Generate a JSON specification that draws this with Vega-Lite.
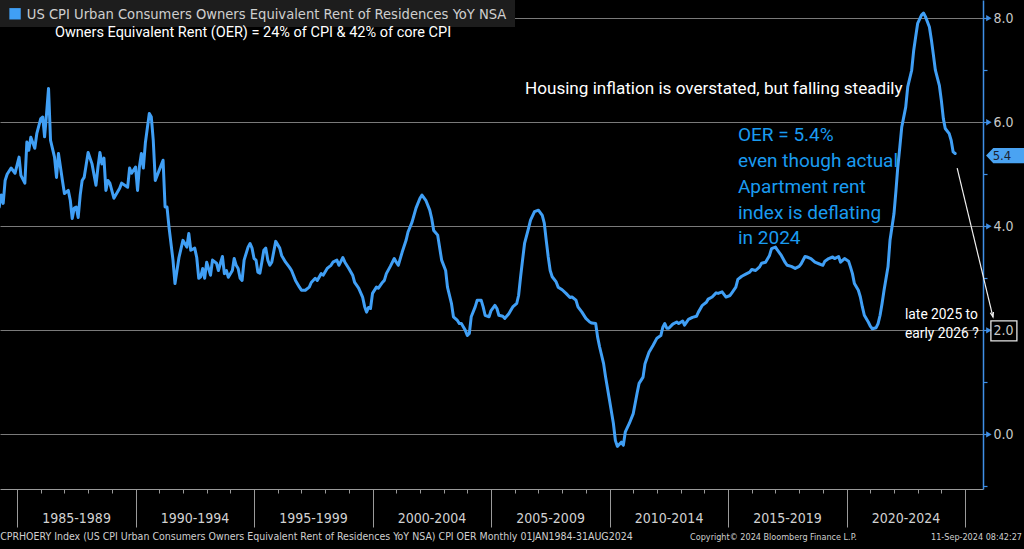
{
  "$schema": "https://vega.github.io/schema/vega-lite/v6.json",
  "width": 983,
  "height": 489,
  "autosize": {"type": "none"},
  "padding": {"left": 0, "top": 0, "right": 41, "bottom": 60},
  "background": "#000000",
  "config": {"view": {"stroke": null}},
  "datasets": {
    "oer": [
      {"d":"1984-04","v":4.37},{"d":"1984-05","v":4.6},{"d":"1984-06","v":4.44},{"d":"1984-07","v":4.88},{"d":"1984-08","v":5.0},{"d":"1984-10","v":5.12},{"d":"1984-12","v":5.02},
      {"d":"1985-02","v":5.33},{"d":"1985-03","v":4.98},{"d":"1985-05","v":4.83},{"d":"1985-06","v":5.62},{"d":"1985-07","v":5.46},{"d":"1985-08","v":5.71},{"d":"1985-10","v":5.5},{"d":"1985-11","v":5.78},
      {"d":"1986-01","v":6.07},{"d":"1986-02","v":6.1},{"d":"1986-03","v":5.72},{"d":"1986-04","v":6.17},{"d":"1986-05","v":6.65},{"d":"1986-06","v":5.65},{"d":"1986-08","v":5.33},{"d":"1986-09","v":4.94},{"d":"1986-10","v":5.4},{"d":"1986-12","v":4.88},
      {"d":"1987-01","v":4.63},{"d":"1987-03","v":4.69},{"d":"1987-04","v":4.5},{"d":"1987-05","v":4.15},{"d":"1987-06","v":4.35},{"d":"1987-07","v":4.37},{"d":"1987-08","v":4.17},{"d":"1987-09","v":4.6},{"d":"1987-10","v":4.88},{"d":"1987-11","v":4.94},
      {"d":"1988-01","v":5.42},{"d":"1988-03","v":5.2},{"d":"1988-05","v":4.79},{"d":"1988-06","v":5.14},{"d":"1988-07","v":5.42},{"d":"1988-08","v":5.2},{"d":"1988-09","v":5.31},{"d":"1988-10","v":4.69},{"d":"1988-11","v":4.88},{"d":"1988-12","v":4.83},
      {"d":"1989-02","v":4.54},{"d":"1989-05","v":4.73},{"d":"1989-06","v":4.83},{"d":"1989-09","v":4.75},{"d":"1989-10","v":5.12},{"d":"1989-11","v":5.02},
      {"d":"1990-01","v":5.14},{"d":"1990-02","v":4.69},{"d":"1990-03","v":5.14},{"d":"1990-04","v":5.4},{"d":"1990-05","v":5.12},{"d":"1990-06","v":5.6},{"d":"1990-08","v":6.17},{"d":"1990-09","v":6.1},{"d":"1990-10","v":5.65},{"d":"1990-11","v":4.88},
      {"d":"1991-01","v":5.08},{"d":"1991-03","v":5.27},{"d":"1991-04","v":4.37},{"d":"1991-05","v":4.37},{"d":"1991-06","v":3.98},{"d":"1991-08","v":3.35},{"d":"1991-09","v":2.9},{"d":"1991-11","v":3.4},
      {"d":"1992-01","v":3.73},{"d":"1992-03","v":3.6},{"d":"1992-04","v":3.86},{"d":"1992-05","v":3.54},{"d":"1992-07","v":3.58},{"d":"1992-08","v":3.4},{"d":"1992-09","v":3.0},{"d":"1992-10","v":3.03},{"d":"1992-11","v":3.19},{"d":"1992-12","v":3.0},
      {"d":"1993-01","v":3.31},{"d":"1993-03","v":3.06},{"d":"1993-04","v":3.35},{"d":"1993-06","v":3.29},{"d":"1993-07","v":3.15},{"d":"1993-08","v":3.29},{"d":"1993-09","v":3.42},{"d":"1993-10","v":3.09},{"d":"1993-11","v":3.15},{"d":"1993-12","v":3.02},
      {"d":"1994-02","v":3.15},{"d":"1994-03","v":3.38},{"d":"1994-04","v":3.25},{"d":"1994-05","v":3.19},{"d":"1994-06","v":3.0},{"d":"1994-07","v":2.96},{"d":"1994-08","v":3.35},{"d":"1994-10","v":3.6},{"d":"1994-11","v":3.67},{"d":"1994-12","v":3.58},
      {"d":"1995-01","v":3.38},{"d":"1995-02","v":3.35},{"d":"1995-03","v":3.12},{"d":"1995-04","v":3.1},{"d":"1995-05","v":3.31},{"d":"1995-06","v":3.54},{"d":"1995-07","v":3.58},{"d":"1995-08","v":3.35},{"d":"1995-09","v":3.25},{"d":"1995-10","v":3.31},{"d":"1995-12","v":3.71},
      {"d":"1996-02","v":3.58},{"d":"1996-03","v":3.44},{"d":"1996-05","v":3.31},{"d":"1996-07","v":3.21},{"d":"1996-08","v":3.15},{"d":"1996-10","v":2.96},{"d":"1996-12","v":2.83},
      {"d":"1997-01","v":2.77},{"d":"1997-03","v":2.77},{"d":"1997-05","v":2.83},{"d":"1997-06","v":2.92},{"d":"1997-08","v":3.0},{"d":"1997-09","v":2.96},{"d":"1997-11","v":3.09},{"d":"1997-12","v":3.06},
      {"d":"1998-02","v":3.19},{"d":"1998-04","v":3.25},{"d":"1998-05","v":3.31},{"d":"1998-07","v":3.35},{"d":"1998-08","v":3.25},{"d":"1998-10","v":3.4},{"d":"1998-11","v":3.31},
      {"d":"1999-01","v":3.19},{"d":"1999-03","v":3.06},{"d":"1999-04","v":2.92},{"d":"1999-06","v":2.81},{"d":"1999-08","v":2.64},{"d":"1999-09","v":2.46},{"d":"1999-10","v":2.35},{"d":"1999-11","v":2.44},{"d":"1999-12","v":2.42},
      {"d":"2000-01","v":2.71},{"d":"2000-03","v":2.83},{"d":"2000-04","v":2.81},{"d":"2000-06","v":2.92},{"d":"2000-07","v":2.96},{"d":"2000-08","v":3.09},{"d":"2000-10","v":3.23},{"d":"2000-12","v":3.38},
      {"d":"2001-01","v":3.31},{"d":"2001-02","v":3.25},{"d":"2001-04","v":3.5},{"d":"2001-06","v":3.73},{"d":"2001-07","v":3.89},{"d":"2001-09","v":4.08},{"d":"2001-11","v":4.35},
      {"d":"2002-01","v":4.54},{"d":"2002-02","v":4.6},{"d":"2002-04","v":4.5},{"d":"2002-06","v":4.31},{"d":"2002-07","v":4.15},{"d":"2002-08","v":3.92},{"d":"2002-10","v":3.83},{"d":"2002-12","v":3.35},
      {"d":"2003-02","v":3.15},{"d":"2003-03","v":2.83},{"d":"2003-05","v":2.52},{"d":"2003-06","v":2.26},{"d":"2003-08","v":2.19},{"d":"2003-09","v":2.13},{"d":"2003-10","v":2.13},{"d":"2003-12","v":2.0},
      {"d":"2004-01","v":1.9},{"d":"2004-02","v":1.94},{"d":"2004-03","v":2.26},{"d":"2004-05","v":2.45},{"d":"2004-06","v":2.58},{"d":"2004-08","v":2.58},{"d":"2004-09","v":2.45},{"d":"2004-10","v":2.29},{"d":"2004-12","v":2.26},
      {"d":"2005-01","v":2.38},{"d":"2005-03","v":2.48},{"d":"2005-04","v":2.42},{"d":"2005-05","v":2.29},{"d":"2005-07","v":2.27},{"d":"2005-08","v":2.23},{"d":"2005-10","v":2.32},{"d":"2005-12","v":2.45},
      {"d":"2006-02","v":2.52},{"d":"2006-03","v":2.67},{"d":"2006-04","v":3.03},{"d":"2006-05","v":3.35},{"d":"2006-06","v":3.67},{"d":"2006-08","v":3.96},{"d":"2006-09","v":4.12},{"d":"2006-11","v":4.28},
      {"d":"2007-01","v":4.31},{"d":"2007-03","v":4.21},{"d":"2007-04","v":4.06},{"d":"2007-05","v":3.73},{"d":"2007-06","v":3.41},{"d":"2007-07","v":3.15},{"d":"2007-08","v":3.03},{"d":"2007-10","v":2.93},{"d":"2007-11","v":2.83},
      {"d":"2008-01","v":2.78},{"d":"2008-03","v":2.71},{"d":"2008-05","v":2.63},{"d":"2008-06","v":2.64},{"d":"2008-08","v":2.58},{"d":"2008-09","v":2.45},{"d":"2008-11","v":2.35},
      {"d":"2009-01","v":2.23},{"d":"2009-03","v":2.16},{"d":"2009-04","v":2.14},{"d":"2009-06","v":2.13},{"d":"2009-07","v":1.87},{"d":"2009-08","v":1.68},{"d":"2009-10","v":1.36},{"d":"2009-11","v":1.1},
      {"d":"2010-01","v":0.65},{"d":"2010-03","v":0.21},{"d":"2010-04","v":-0.12},{"d":"2010-05","v":-0.23},{"d":"2010-07","v":-0.15},{"d":"2010-08","v":-0.21},{"d":"2010-09","v":0.05},{"d":"2010-11","v":0.21},
      {"d":"2011-01","v":0.4},{"d":"2011-03","v":0.79},{"d":"2011-04","v":0.98},{"d":"2011-06","v":1.1},{"d":"2011-07","v":1.36},{"d":"2011-09","v":1.58},{"d":"2011-11","v":1.71},
      {"d":"2012-01","v":1.85},{"d":"2012-03","v":1.9},{"d":"2012-04","v":2.06},{"d":"2012-05","v":2.13},{"d":"2012-06","v":2.04},{"d":"2012-07","v":2.04},{"d":"2012-09","v":2.12},{"d":"2012-11","v":2.16},{"d":"2012-12","v":2.13},
      {"d":"2013-02","v":2.18},{"d":"2013-03","v":2.1},{"d":"2013-05","v":2.21},{"d":"2013-07","v":2.25},{"d":"2013-09","v":2.27},{"d":"2013-10","v":2.35},{"d":"2013-12","v":2.48},
      {"d":"2014-02","v":2.54},{"d":"2014-03","v":2.6},{"d":"2014-05","v":2.64},{"d":"2014-07","v":2.72},{"d":"2014-08","v":2.71},{"d":"2014-10","v":2.74},{"d":"2014-12","v":2.64},
      {"d":"2015-02","v":2.67},{"d":"2015-03","v":2.72},{"d":"2015-05","v":2.83},{"d":"2015-06","v":2.98},{"d":"2015-08","v":3.04},{"d":"2015-10","v":3.08},{"d":"2015-12","v":3.12},
      {"d":"2016-01","v":3.17},{"d":"2016-03","v":3.15},{"d":"2016-05","v":3.22},{"d":"2016-06","v":3.29},{"d":"2016-08","v":3.31},{"d":"2016-10","v":3.44},{"d":"2016-11","v":3.57},
      {"d":"2017-01","v":3.6},{"d":"2017-02","v":3.54},{"d":"2017-04","v":3.44},{"d":"2017-06","v":3.3},{"d":"2017-07","v":3.25},{"d":"2017-09","v":3.23},{"d":"2017-11","v":3.19},
      {"d":"2018-01","v":3.23},{"d":"2018-02","v":3.28},{"d":"2018-04","v":3.42},{"d":"2018-05","v":3.41},{"d":"2018-07","v":3.38},{"d":"2018-09","v":3.31},{"d":"2018-11","v":3.28},
      {"d":"2019-01","v":3.25},{"d":"2019-02","v":3.33},{"d":"2019-04","v":3.38},{"d":"2019-06","v":3.41},{"d":"2019-07","v":3.38},{"d":"2019-09","v":3.42},{"d":"2019-10","v":3.31},{"d":"2019-12","v":3.38},
      {"d":"2020-02","v":3.33},{"d":"2020-03","v":3.22},{"d":"2020-04","v":3.09},{"d":"2020-05","v":2.9},{"d":"2020-07","v":2.77},{"d":"2020-08","v":2.64},{"d":"2020-09","v":2.45},{"d":"2020-10","v":2.29},{"d":"2020-12","v":2.16},
      {"d":"2021-01","v":2.08},{"d":"2021-02","v":2.03},{"d":"2021-04","v":2.05},{"d":"2021-05","v":2.13},{"d":"2021-06","v":2.29},{"d":"2021-07","v":2.51},{"d":"2021-08","v":2.77},{"d":"2021-10","v":3.22},{"d":"2021-11","v":3.73},
      {"d":"2022-01","v":4.24},{"d":"2022-02","v":4.69},{"d":"2022-03","v":5.14},{"d":"2022-04","v":5.52},{"d":"2022-05","v":5.91},{"d":"2022-07","v":6.29},{"d":"2022-08","v":6.68},{"d":"2022-10","v":7.0},{"d":"2022-11","v":7.38},{"d":"2022-12","v":7.64},
      {"d":"2023-01","v":7.9},{"d":"2023-03","v":8.06},{"d":"2023-04","v":8.1},{"d":"2023-05","v":8.03},{"d":"2023-07","v":7.83},{"d":"2023-08","v":7.58},{"d":"2023-09","v":7.29},{"d":"2023-10","v":7.0},{"d":"2023-12","v":6.71},
      {"d":"2024-01","v":6.42},{"d":"2024-02","v":6.07},{"d":"2024-03","v":5.88},{"d":"2024-05","v":5.78},{"d":"2024-06","v":5.65},{"d":"2024-07","v":5.43},{"d":"2024-08","v":5.4}
    ],
    "strip": [{"d": "1984-04-13", "d2": "2006-01-05", "v": 8.35, "v2": 7.83}],
    "arrow": [{"d": "2024-09-01", "v": 5.12, "d2": "2026-03-07", "v2": 2.256}],
    "tag": [{"d": "2026-09-09", "v": 5.36}],
    "box": [{"d": "2026-08-22", "v": 1.99}],
    "legendkey": [{"d": "1984-12-01", "v": 8.085}],
    "pointers": [
      {"d": "2026-01-03", "v": 0}, {"d": "2026-01-03", "v": 2}, {"d": "2026-01-03", "v": 4},
      {"d": "2026-01-03", "v": 6}, {"d": "2026-01-03", "v": 8}
    ],
    "notes": [
      {"kind": "legend", "d": "1985-05-31", "v": 8.06, "text": "US CPI Urban Consumers Owners Equivalent Rent of Residences YoY NSA"},
      {"kind": "sub", "d": "1986-08-08", "v": 7.71, "text": "Owners Equivalent Rent (OER) = 24% of CPI & 42% of core CPI"},
      {"kind": "head", "d": "2006-06-08", "v": 6.63, "text": "Housing inflation is overstated, but falling steadily"},
      {"kind": "oer", "d": "2015-06-03", "v": 5.755, "text": "OER = 5.4%"},
      {"kind": "oer", "d": "2015-06-03", "v": 5.255, "text": "even though actual"},
      {"kind": "oer", "d": "2015-06-03", "v": 4.755, "text": "Apartment rent"},
      {"kind": "oer", "d": "2015-06-03", "v": 4.255, "text": "index is deflating"},
      {"kind": "oer", "d": "2015-06-03", "v": 3.775, "text": "in 2024"},
      {"kind": "late", "d": "2022-06-20", "v": 2.294, "text": "late 2025 to"},
      {"kind": "late", "d": "2022-06-20", "v": 1.929, "text": "early 2026 ?"},
      {"kind": "foot", "d": "1984-04-15", "v": -1.97, "text": "CPRHOERY Index (US CPI Urban Consumers Owners Equivalent Rent of Residences YoY NSA) CPI OER  Monthly 01JAN1984-31AUG2024"},
      {"kind": "copy", "d": "2013-05-26", "v": -1.97, "text": "Copyright© 2024 Bloomberg Finance L.P."},
      {"kind": "stamp", "d": "2027-05-28", "v": -1.97, "text": "11-Sep-2024 08:42:27"},
      {"kind": "tag", "d": "2026-07-23", "v": 5.36, "text": "5.4"}
    ]
  },
  "encoding": {
    "x": {
      "field": "d",
      "type": "temporal",
      "title": null,
      "scale": {
        "type": "utc",
        "domain": [
          {"year": 1984, "month": 4, "date": 13, "utc": true},
          {"year": 2025, "month": 10, "date": 4, "utc": true}
        ]
      },
      "axis": {
        "values": [
          {"year": 1985, "utc": true}, {"year": 1986, "utc": true}, {"year": 1987, "utc": true}, {"year": 1988, "utc": true}, {"year": 1989, "utc": true},
          {"year": 1990, "utc": true}, {"year": 1991, "utc": true}, {"year": 1992, "utc": true}, {"year": 1993, "utc": true}, {"year": 1994, "utc": true},
          {"year": 1995, "utc": true}, {"year": 1996, "utc": true}, {"year": 1997, "utc": true}, {"year": 1998, "utc": true}, {"year": 1999, "utc": true},
          {"year": 2000, "utc": true}, {"year": 2001, "utc": true}, {"year": 2002, "utc": true}, {"year": 2003, "utc": true}, {"year": 2004, "utc": true},
          {"year": 2005, "utc": true}, {"year": 2006, "utc": true}, {"year": 2007, "utc": true}, {"year": 2008, "utc": true}, {"year": 2009, "utc": true},
          {"year": 2010, "utc": true}, {"year": 2011, "utc": true}, {"year": 2012, "utc": true}, {"year": 2013, "utc": true}, {"year": 2014, "utc": true},
          {"year": 2015, "utc": true}, {"year": 2016, "utc": true}, {"year": 2017, "utc": true}, {"year": 2018, "utc": true}, {"year": 2019, "utc": true},
          {"year": 2020, "utc": true}, {"year": 2021, "utc": true}, {"year": 2022, "utc": true}, {"year": 2023, "utc": true}, {"year": 2024, "utc": true},
          {"year": 2025, "utc": true}
        ],
        "grid": false,
        "domainColor": "#9a9a9a",
        "tickColor": "#9a9a9a",
        "tickSize": {"condition": {"test": "utcyear(datum.value) % 5 === 0", "value": 38}, "value": 4},
        "labelExpr": "utcyear(datum.value) % 5 === 0 && utcyear(datum.value) < 2025 ? utcyear(datum.value) + '-' + (utcyear(datum.value) + 4) : ''",
        "labelOffset": 59,
        "labelPadding": -9,
        "labelAlign": "center",
        "labelBaseline": "middle",
        "labelColor": "#d2d2d2",
        "labelFont": "DejaVu Sans Condensed",
        "labelFontSize": 14,
        "labelOverlap": false,
        "labelFlush": false
      }
    },
    "y": {
      "field": "v",
      "type": "quantitative",
      "title": null,
      "scale": {"domain": [-1.05, 8.35], "nice": false, "zero": false},
      "axis": {
        "orient": "right",
        "values": [-1, 0, 1, 2, 3, 4, 5, 6, 7, 8],
        "labelExpr": "datum.value % 2 === 0 ? format(datum.value, '.1f') : ''",
        "grid": true,
        "gridColor": "#7a7a7a",
        "gridWidth": 1,
        "gridOpacity": {"condition": {"test": "datum.value % 2 === 0", "value": 1}, "value": 0},
        "domainColor": "#3f8fe6",
        "domainWidth": 1.5,
        "tickColor": "#3f8fe6",
        "tickSize": 4,
        "tickWidth": 1.2,
        "labelColor": "#c8c8c8",
        "labelFont": "DejaVu Sans Condensed",
        "labelFontSize": 14,
        "labelPadding": 6,
        "labelBaseline": "middle",
        "labelOverlap": false,
        "labelFlush": false
      }
    }
  },
  "layer": [
    {
      "data": {"name": "strip"},
      "mark": {"type": "rect", "color": "#1d1d1d"},
      "encoding": {"x2": {"field": "d2"}, "y2": {"field": "v2"}}
    },
    {
      "data": {"name": "oer"},
      "mark": {"type": "line", "color": "#409ff5", "strokeWidth": 3, "clip": true, "strokeJoin": "round", "strokeCap": "round"}
    },
    {
      "data": {"name": "arrow"},
      "mark": {"type": "rule", "color": "#f0f0f0", "strokeWidth": 1.2},
      "encoding": {"x2": {"field": "d2"}, "y2": {"field": "v2"}}
    },
    {
      "data": {"name": "arrow"},
      "mark": {"type": "point", "shape": "M-0.55,-1.6L0,0L0.55,-1.6", "filled": false, "stroke": "#f0f0f0", "strokeWidth": 1.2, "size": 36, "angle": 346.4, "opacity": 1},
      "encoding": {"x": {"field": "d2", "type": "temporal"}, "y": {"field": "v2", "type": "quantitative"}}
    },
    {
      "data": {"name": "pointers"},
      "mark": {"type": "point", "shape": "triangle-right", "filled": true, "color": "#3f8fe6", "size": 40, "opacity": 1}
    },
    {
      "data": {"name": "tag"},
      "mark": {"type": "point", "shape": "M-1,0L-0.62,-0.4L1,-0.4L1,0.4L-0.62,0.4Z", "filled": true, "color": "#4aa3f2", "size": 1444, "opacity": 1}
    },
    {
      "data": {"name": "box"},
      "mark": {"type": "point", "shape": "M-1,-0.77L1,-0.77L1,0.77L-1,0.77Z", "filled": false, "stroke": "#e6e6e6", "strokeWidth": 1.3, "size": 676, "opacity": 1}
    },
    {
      "data": {"name": "legendkey"},
      "mark": {"type": "point", "shape": "square", "filled": true, "color": "#409ff5", "size": 130, "opacity": 1}
    },
    {
      "data": {"name": "notes"},
      "transform": [{"filter": "datum.kind === 'legend'"}],
      "mark": {"type": "text", "align": "left", "baseline": "middle", "font": "DejaVu Sans Condensed", "fontSize": 14.6, "color": "#cfcfcf"},
      "encoding": {"text": {"field": "text"}}
    },
    {
      "data": {"name": "notes"},
      "transform": [{"filter": "datum.kind === 'sub'"}],
      "mark": {"type": "text", "align": "left", "baseline": "middle", "font": "Roboto", "fontSize": 14.5, "color": "#ffffff"},
      "encoding": {"text": {"field": "text"}}
    },
    {
      "data": {"name": "notes"},
      "transform": [{"filter": "datum.kind === 'head'"}],
      "mark": {"type": "text", "align": "left", "baseline": "middle", "font": "Roboto", "fontSize": 17.1, "color": "#ffffff"},
      "encoding": {"text": {"field": "text"}}
    },
    {
      "data": {"name": "notes"},
      "transform": [{"filter": "datum.kind === 'oer'"}],
      "mark": {"type": "text", "align": "left", "baseline": "middle", "font": "Roboto", "fontSize": 19, "color": "#1a9bf0"},
      "encoding": {"text": {"field": "text"}}
    },
    {
      "data": {"name": "notes"},
      "transform": [{"filter": "datum.kind === 'late'"}],
      "mark": {"type": "text", "align": "left", "baseline": "middle", "font": "Roboto", "fontSize": 13.8, "color": "#ffffff"},
      "encoding": {"text": {"field": "text"}}
    },
    {
      "data": {"name": "notes"},
      "transform": [{"filter": "datum.kind === 'foot'"}],
      "mark": {"type": "text", "align": "left", "baseline": "middle", "font": "DejaVu Sans Condensed", "fontSize": 10.5, "color": "#cfcfcf"},
      "encoding": {"text": {"field": "text"}}
    },
    {
      "data": {"name": "notes"},
      "transform": [{"filter": "datum.kind === 'copy'"}],
      "mark": {"type": "text", "align": "left", "baseline": "middle", "font": "DejaVu Sans Condensed", "fontSize": 9, "color": "#cfcfcf"},
      "encoding": {"text": {"field": "text"}}
    },
    {
      "data": {"name": "notes"},
      "transform": [{"filter": "datum.kind === 'stamp'"}],
      "mark": {"type": "text", "align": "right", "baseline": "middle", "font": "DejaVu Sans Condensed", "fontSize": 9, "color": "#cfcfcf"},
      "encoding": {"text": {"field": "text"}}
    },
    {
      "data": {"name": "notes"},
      "transform": [{"filter": "datum.kind === 'tag'"}],
      "mark": {"type": "text", "align": "center", "baseline": "middle", "font": "DejaVu Sans Condensed", "fontSize": 13, "color": "#1a2230"},
      "encoding": {"text": {"field": "text"}}
    }
  ]
}
